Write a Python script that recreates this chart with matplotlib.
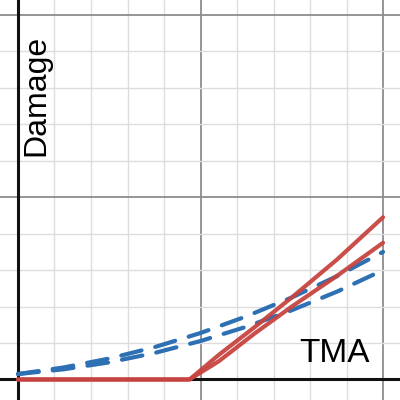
import matplotlib
matplotlib.use("Agg")
import matplotlib.pyplot as plt
from matplotlib.ticker import MultipleLocator

# Values (x = TMA, y = damage, arbitrary units)
blue_x = [0, 0.25, 0.5, 0.75, 1.0, 1.25, 1.5, 1.75, 2.0]
blue_upper = [0.03, 0.066, 0.115, 0.178, 0.255, 0.346, 0.45, 0.568, 0.70]
blue_lower = [0.03, 0.056, 0.094, 0.146, 0.211, 0.289, 0.38, 0.483, 0.60]

red_x = [0, 0.94, 1.1, 1.3, 1.5, 1.75, 2.0]
red_upper = [0, 0, 0.135, 0.29, 0.45, 0.66, 0.89]
red_lower = [0, 0, 0.10, 0.255, 0.40, 0.57, 0.75]

RED = "#c74440"
BLUE = "#2d70b3"

fig = plt.figure(figsize=(4, 4), dpi=100)
ax = fig.add_axes([0, 0, 1, 1])

ax.set_xlim(-0.0986, 2.093)
ax.set_ylim(-0.1125, 2.082)

# grid like a graphing calculator
ax.xaxis.set_major_locator(MultipleLocator(1))
ax.yaxis.set_major_locator(MultipleLocator(1))
ax.xaxis.set_minor_locator(MultipleLocator(0.2))
ax.yaxis.set_minor_locator(MultipleLocator(0.2))
ax.grid(which="minor", color="#dddddd", linewidth=1.0, zorder=0)
ax.grid(which="major", color="#8c8c8c", linewidth=1.3, zorder=0)
ax.tick_params(which="both", length=0, labelbottom=False, labelleft=False)
for s in ax.spines.values():
    s.set_visible(False)
ax.set_axisbelow(True)

ax.axhline(0, color="#111111", linewidth=2.2, zorder=1)
ax.axvline(0, color="#111111", linewidth=2.2, zorder=1)

for ys in (blue_upper, blue_lower):
    ax.plot(blue_x, ys, color=BLUE, linewidth=3, dashes=(5, 3.4),
            dash_capstyle="round", zorder=2)

for ys in (red_upper, red_lower):
    ax.plot(red_x, ys, color=RED, linewidth=3, solid_capstyle="round",
            alpha=0.95, zorder=3)

ax.text(0.09, 0.7625, "Damage", transform=ax.transAxes, rotation=90,
        ha="center", va="center", fontsize=23, family="Liberation Sans",
        zorder=4)
ax.text(0.8375, 0.095, "TMA", transform=ax.transAxes, ha="center",
        va="baseline", fontsize=24, family="Liberation Sans", zorder=4)

fig.savefig("out.png", dpi=100, facecolor="white")
